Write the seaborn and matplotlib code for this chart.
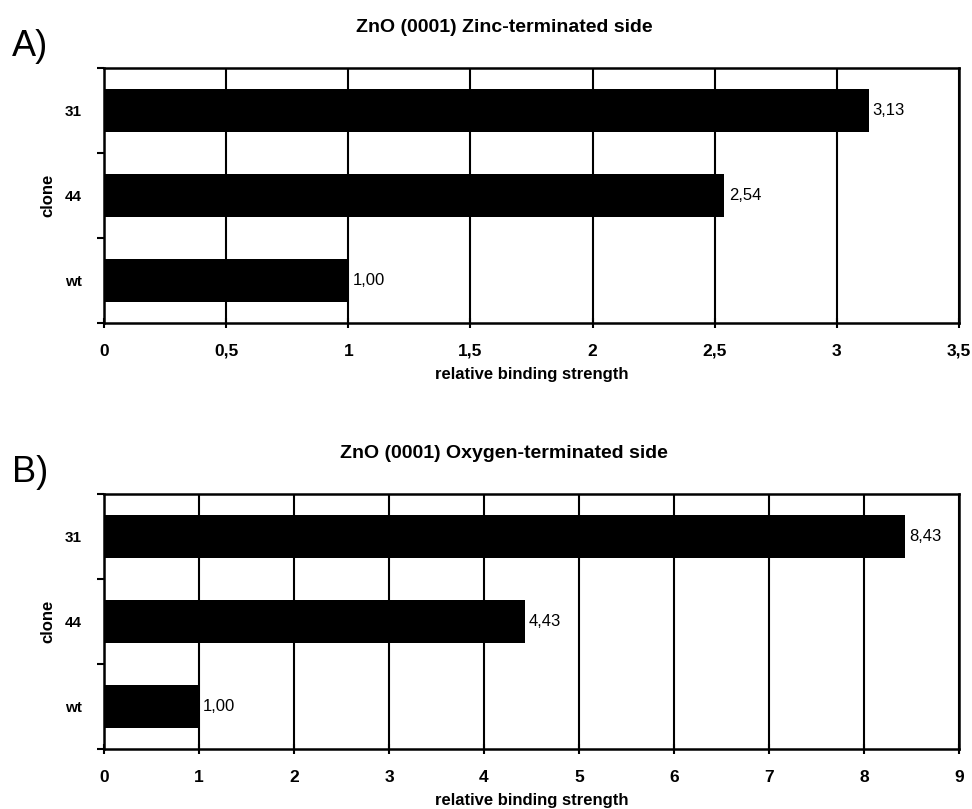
import matplotlib
matplotlib.use("Agg")
import matplotlib.pyplot as plt
import seaborn as sns
import pandas as pd
from matplotlib.ticker import FixedLocator, FuncFormatter

# ---- data ----
clones = ["31", "44", "wt"]
zinc_values = [3.13, 2.54, 1.00]
oxygen_values = [8.43, 4.43, 1.00]
zinc_ticks = [0, 0.5, 1, 1.5, 2, 2.5, 3, 3.5]
oxygen_ticks = [0, 1, 2, 3, 4, 5, 6, 7, 8, 9]
titles = ["ZnO (0001) Zinc-terminated side", "ZnO (0001) Oxygen-terminated side"]
panel_labels = ["A)", "B)"]

sns.set_theme(style="white")
plt.rcParams["font.family"] = ["Liberation Sans", "DejaVu Sans"]
plt.rcParams["text.color"] = "black"
plt.rcParams["axes.labelcolor"] = "black"
plt.rcParams["xtick.color"] = "black"
plt.rcParams["ytick.color"] = "black"

W, H = 972, 809
fig = plt.figure(figsize=(W / 100, H / 100), dpi=100)

def fx(px):
    return px / W

def fy(py):
    return 1 - py / H

left, right = 104, 959
panels = [
    dict(top=68, bottom=323, values=zinc_values, ticks=zinc_ticks, title=titles[0],
         label=panel_labels[0], title_y=27, label_y=46),
    dict(top=494, bottom=749, values=oxygen_values, ticks=oxygen_ticks, title=titles[1],
         label=panel_labels[1], title_y=453, label_y=473),
]

def comma(v, pos=None):
    return ("%g" % v).replace(".", ",")

for p in panels:
    ax = fig.add_axes([fx(left), fy(p["bottom"]), fx(right - left), (p["bottom"] - p["top"]) / H])
    df = pd.DataFrame({"clone": clones, "value": p["values"]})
    sns.barplot(data=df, x="value", y="clone", order=clones, color="black",
                saturation=1, width=0.5, ax=ax, zorder=3, edgecolor="black", linewidth=0)
    ax.set_xlim(p["ticks"][0], p["ticks"][-1])
    ax.set_ylim(2.5, -0.5)
    ax.xaxis.set_major_locator(FixedLocator(p["ticks"]))
    ax.xaxis.set_major_formatter(FuncFormatter(comma))
    ax.grid(axis="x", color="black", linewidth=1.5, zorder=0)
    ax.grid(axis="y", visible=False)
    for s in ax.spines.values():
        s.set_color("black")
        s.set_linewidth(1.8)
        s.set_visible(True)
    ax.tick_params(axis="x", which="major", direction="inout", length=7, width=1.5,
                   color="black", labelcolor="black", pad=20, labelsize=12.5, bottom=True)
    ax.tick_params(axis="y", which="major", length=0, pad=16, labelsize=11,
                   labelcolor="black", left=True)
    ax.yaxis.set_minor_locator(FixedLocator([-0.5, 0.5, 1.5, 2.5]))
    ax.tick_params(axis="y", which="minor", direction="out", length=5, width=1.5,
                   color="black", left=True)
    for lab in ax.get_xticklabels():
        lab.set_fontweight("bold")
        lab.set_verticalalignment("baseline")
    for lab in ax.get_yticklabels():
        lab.set_fontweight("bold")
    ax.set_xlabel("relative binding strength", fontsize=12, fontweight="bold",
                  labelpad=4, color="black")
    ax.set_ylabel("clone", fontsize=12, fontweight="bold", color="black")
    ax.yaxis.set_label_coords(-(left - 55) / (right - left), 0.5)
    ax.xaxis.set_label_coords(0.5, -(52) / (p["bottom"] - p["top"]))
    ax.xaxis.label.set_verticalalignment("center")
    for i, v in enumerate(p["values"]):
        ax.annotate(("%.2f" % v).replace(".", ","), xy=(v, i), xytext=(3, 0),
                    textcoords="offset points", va="center", ha="left", fontsize=12,
                    color="black")
    fig.text(fx(504), fy(p["title_y"]), p["title"], ha="center", va="center",
             fontsize=14, fontweight="bold", color="black")
    fig.text(fx(12), fy(p["label_y"]), p["label"], ha="left", va="center",
             fontsize=26, color="black")

fig.savefig("out.png", dpi=100, facecolor="white")
